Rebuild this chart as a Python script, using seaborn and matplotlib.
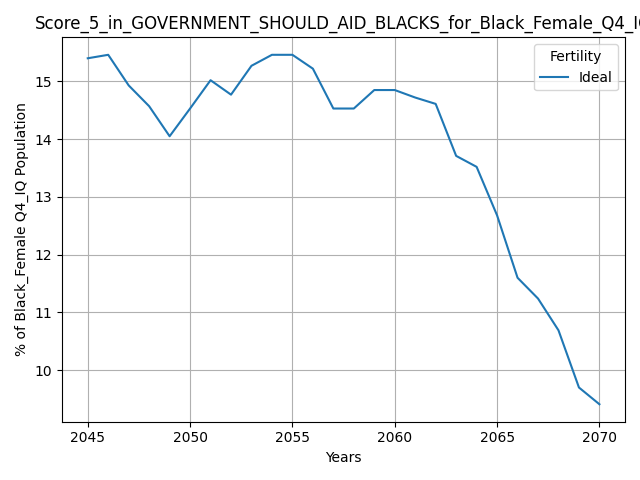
import matplotlib
matplotlib.use("Agg")
import matplotlib.pyplot as plt
import pandas as pd
import seaborn as sns

years = list(range(2045, 2071))
values = [15.40, 15.46, 14.93, 14.57, 14.05, 14.53, 15.02, 14.77, 15.27, 15.46,
          15.46, 15.22, 14.53, 14.53, 14.85, 14.85, 14.72, 14.61, 13.71, 13.52,
          12.68, 11.60, 11.24, 10.69, 9.70, 9.41]
fertility = ["Ideal"] * len(years)

df = pd.DataFrame({"Years": years, "value": values, "Fertility": fertility})

fig, ax = plt.subplots(figsize=(6.4, 4.8), dpi=100)
sns.lineplot(data=df, x="Years", y="value", hue="Fertility", ax=ax)
ax.grid(True)
ax.set_xlabel("Years")
ax.set_ylabel("% of Black_Female Q4_IQ Population")
ax.set_title("Score_5_in_GOVERNMENT_SHOULD_AID_BLACKS_for_Black_Female_Q4_IQ")
fig.tight_layout()
fig.savefig("out.png")
